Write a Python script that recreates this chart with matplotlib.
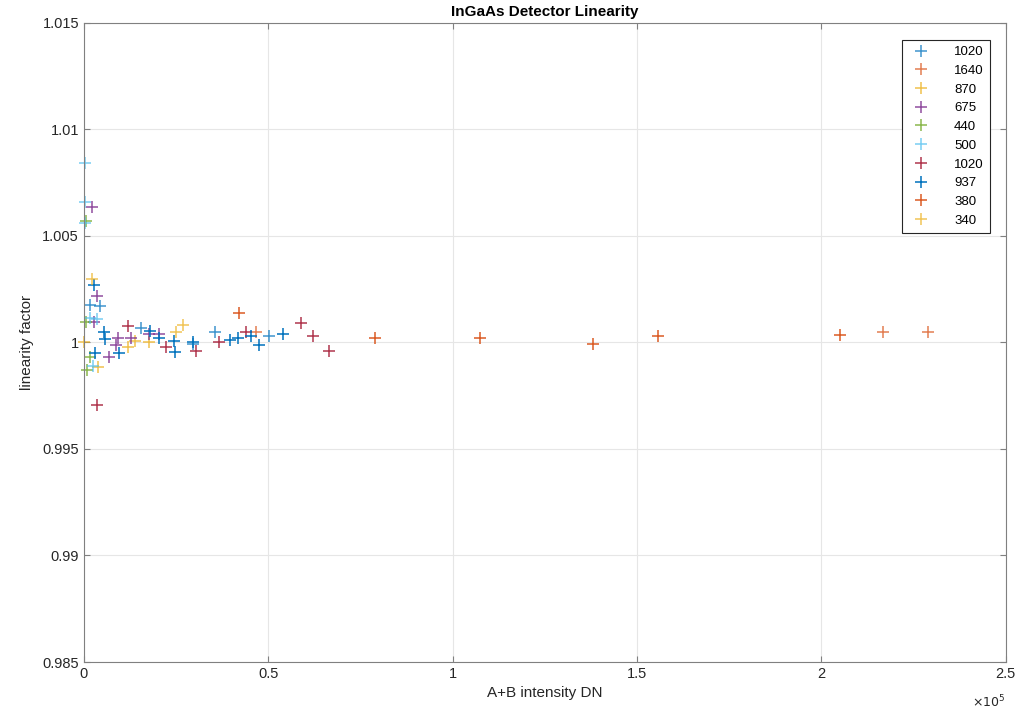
import matplotlib.pyplot as plt
from matplotlib.ticker import FuncFormatter, MultipleLocator

plt.rcParams['font.family'] = ['Liberation Sans', 'DejaVu Sans']

labels = ['1020', '1640', '870', '675', '440', '500', '1020', '937', '380', '340']
colors = ['#0072BD', '#D95319', '#EDB120', '#7E2F8E', '#77AC30',
          '#4DBEEE', '#A2142F', '#0072BD', '#D95319', '#EDB120']

x1020a = [1600, 4300, 15400, 29500, 35500, 50100]
y1020a = [1.00178, 1.00169, 1.0007, 0.99995, 1.00047, 1.0003]
x1640 = [46600, 216600, 229000]
y1640 = [1.00047, 1.00047, 1.00047]
x870 = [0, 3800, 11900, 13800, 17600]
y870 = [1.0, 0.99883, 0.9998, 1.00005, 1.0]
x675 = [2200, 2700, 3500, 6800, 8700, 9200, 12700, 17600, 20300]
y675 = [1.00638, 1.00094, 1.00216, 0.9993, 0.9999, 1.0002, 1.0002, 1.00038, 1.0004]
x440 = [500, 600, 1600, 800]
y440 = [1.00572, 1.00094, 0.9993, 0.99873]
x500 = [270, 350, 300, 1600, 3500, 2400]
y500 = [1.00844, 1.00657, 1.00563, 1.00117, 1.00108, 0.9989]
x1020b = [3500, 11900, 22200, 30400, 36600, 43900, 58800, 62000, 66400]
y1020b = [0.99705, 1.00075, 0.9998, 0.99962, 1.0, 1.00047, 1.0009, 1.0003, 0.99962]
x937 = [2700, 3000, 5400, 5700, 9500, 17900, 20300, 24400, 24700, 29500,
        39600, 41700, 45300, 47400, 53900]
y937 = [1.00272, 0.9995, 1.0005, 1.00014, 0.9995, 1.00056, 1.0002, 1.00005,
        0.99953, 1.0, 1.0001, 1.0002, 1.0003, 0.99986, 1.0004]
x380 = [42000, 78900, 107300, 138000, 155800, 205000]
y380 = [1.0014, 1.00023, 1.0002, 0.99995, 1.0003, 1.00033]
x340 = [2200, 24900, 26800]
y340 = [1.003, 1.00047, 1.0008]

xs = [x1020a, x1640, x870, x675, x440, x500, x1020b, x937, x380, x340]
ys = [y1020a, y1640, y870, y675, y440, y500, y1020b, y937, y380, y340]
alphas = [0.75, 0.75, 0.8, 0.85, 0.85, 0.75, 0.85, 1.0, 0.95, 0.75]

fig = plt.figure(figsize=(10.19, 7.15), dpi=100)
ax = fig.add_axes([0.0824, 0.0741, 0.9046, 0.8939])

for x, y, lab, c, a in zip(xs, ys, labels, colors, alphas):
    ax.plot(x, y, '+', color=c, alpha=a, markersize=9, markeredgewidth=1.1,
            label=lab, clip_on=False)

ax.set_xlim(0, 2.5e5)
ax.set_ylim(0.985, 1.015)
ax.xaxis.set_major_locator(MultipleLocator(0.5e5))
ax.yaxis.set_major_locator(MultipleLocator(0.005))
ax.xaxis.set_major_formatter(FuncFormatter(lambda v, p: '%g' % round(v / 1e5, 3)))
ax.yaxis.set_major_formatter(FuncFormatter(lambda v, p: '%g' % round(v, 4)))
ax.grid(True, color='#e6e6e6', linewidth=0.8)
ax.set_axisbelow(True)
ax.tick_params(direction='in', length=4, colors='#808080', labelcolor='#262626',
               labelsize=10.5, top=True, right=True)
for s in ax.spines.values():
    s.set_color('#808080')

ax.text(1.0, -0.05, r'$\times10^5$', transform=ax.transAxes, ha='right', va='top',
        fontsize=9, color='#262626')
ax.set_xlabel('A+B intensity DN', fontsize=11, color='#262626', labelpad=4)
ax.set_ylabel('linearity factor', fontsize=11, color='#262626', labelpad=6)
ax.set_title('InGaAs Detector Linearity', fontsize=11, fontweight='bold', pad=5)

leg = ax.legend(loc='upper right', bbox_to_anchor=(0.9826, 0.973), fontsize=9.5,
                fancybox=False, framealpha=1, edgecolor='#262626',
                handletextpad=1.5, labelspacing=0.49, borderpad=0.45,
                borderaxespad=0)
leg.get_frame().set_linewidth(0.8)

fig.savefig('out.png', dpi=100)
